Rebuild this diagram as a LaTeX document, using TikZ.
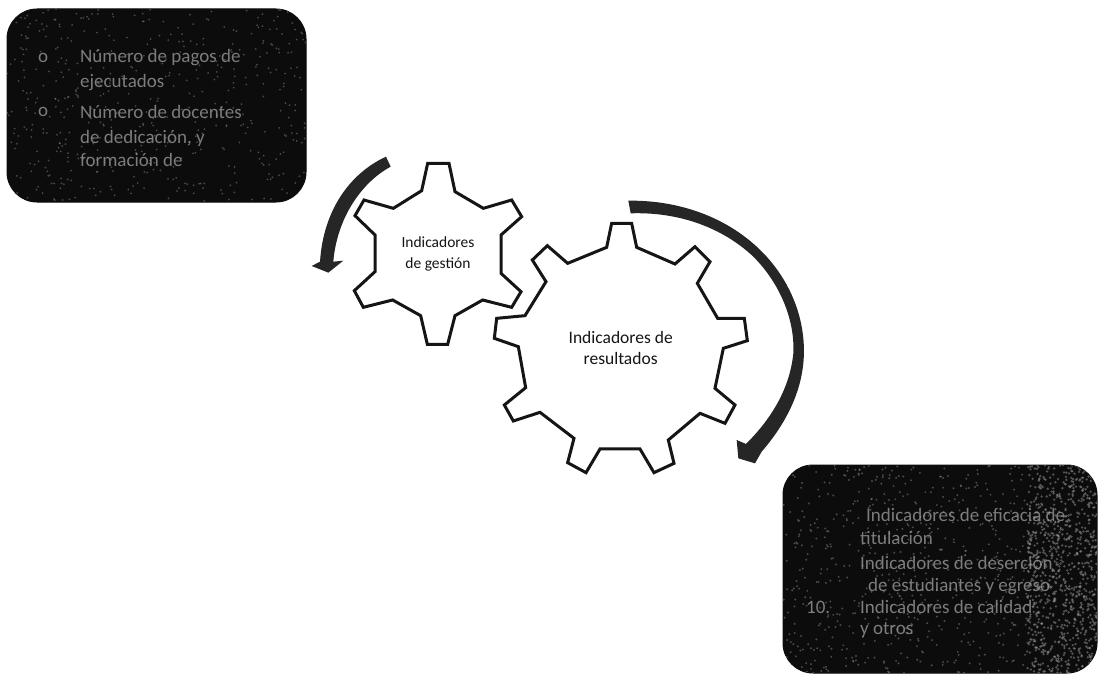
\documentclass[tikz,border=0pt]{standalone}
\usepackage{fontspec}
\setmainfont{Carlito}
\definecolor{boxblack}{HTML}{0C0C0C}
\definecolor{ink}{HTML}{151515}
\definecolor{arrowink}{HTML}{262626}
\definecolor{faded}{HTML}{7C7C7C}
\tikzset{
  gearline/.style={draw=ink,line width=3pt,fill=white,line join=miter},
  darkbox/.style={draw=boxblack,fill=boxblack,line width=1pt,rounded corners=30pt},
  arrowshape/.style={fill=arrowink,draw=none},
  gearlabel/.style={align=center,text=ink,font=\fontsize{15.5}{21}\selectfont,inner sep=0pt},
  faintline/.style={anchor=west,text=faded,font=\fontsize{19}{21}\selectfont,inner sep=0pt}
}
\begin{document}
\begin{tikzpicture}[x=1pt,y=-1pt]
\useasboundingbox (0,0) rectangle (1098,677);
% dark boxes
\draw[darkbox] (7,9) rectangle (306,202);
\draw[darkbox] (783,465) rectangle (1097,673);
% Box wording is barely legible in the reference: the words below are a best reading, not a certain copy.
\node[faintline] (l0) at (38,58) {o};
\node[faintline] (l1) at (80,58) {Número de pagos de};
\node[faintline] (l2) at (80,83) {ejecutados};
\node[faintline] (l3) at (38,112) {o};
\node[faintline] (l4) at (80,112) {Número de docentes};
\node[faintline] (l5) at (80,138) {de dedicación, y};
\node[faintline] (l6) at (80,160) {formación de};
\node[faintline] (r1) at (866,515) {Indicadores de eficacia de};
\node[faintline] (r2) at (860,538) {titulación};
\node[faintline] (r3) at (860,563) {Indicadores de deserción};
\node[faintline] (r4) at (868,587) {de estudiantes y egreso};
\node[faintline] (r5) at (806,607) {10.};
\node[faintline] (r6) at (860,607) {Indicadores de calidad};
\node[faintline] (r7) at (860,630) {y otros};
% print-grain texture of the scanned boxes
\pgfmathsetseed{4242}
\begin{scope}
  \clip[rounded corners=30pt] (7,9) rectangle (306,202);
  \foreach \i in {1,...,500}{
    \pgfmathsetmacro{\px}{rnd*299+7}
    \pgfmathsetmacro{\py}{rnd*193+9}
    \fill[gray!70,opacity=.4] (\px,\py) circle (1pt);
  }
\end{scope}
\begin{scope}
  \clip[rounded corners=30pt] (783,465) rectangle (1097,673);
  \foreach \i in {1,...,900}{
    \pgfmathsetmacro{\px}{rnd*70+1027}
    \pgfmathsetmacro{\py}{rnd*208+465}
    \fill[gray!80,opacity=.5] (\px,\py) circle (1.3pt);
  }
  \foreach \i in {1,...,600}{
    \pgfmathsetmacro{\px}{rnd*244+783}
    \pgfmathsetmacro{\py}{rnd*208+465}
    \fill[gray!70,opacity=.4] (\px,\py) circle (1.1pt);
  }
\end{scope}
% gears and arrows, in the 3x zoom coordinates
\begin{scope}[shift={(300,150)},x=.33333pt,y=-.33333pt]
  \draw[gearline] (383,40)--(447,40)--(465,125)--(550,175)--(635,150)--(665,200)--(603,255)--(603,370)--(663,425)--(635,472)--(548,450)--(465,497)--(443,583)--(382,583)--(362,497)--(278,450)--(190,472)--(163,422)--(225,365)--(225,255)--(165,197)--(192,150)--(280,175)--(365,122)--cycle;
  \draw[gearline] (935,220)--(995,220)--(1010,292)--(1125,342)--(1185,290)--(1230,335)--(1192,400)--(1253,505)--(1333,505)--(1342,572)--(1270,595)--(1245,715)--(1305,765)--(1275,820)--(1200,790)--(1105,870)--(1122,940)--(1062,968)--(1020,897)--(900,897)--(858,968)--(803,938)--(822,865)--(720,787)--(640,813)--(613,765)--(677,713)--(655,590)--(583,565)--(590,505)--(675,497)--(738,395)--(697,330)--(742,287)--(803,340)--(920,292)--cycle;
  \fill[arrowshape] (258,20) .. controls (150,70) and (70,180) .. (60,335) -- (35,348) -- (85,368) -- (130,332) -- (100,335) .. controls (110,210) and (180,100) .. (272,50) -- cycle;
  \fill[arrowshape] (985,152) .. controls (1150,150) and (1300,210) .. (1400,320) .. controls (1490,420) and (1520,540) .. (1510,640) .. controls (1500,740) and (1450,830) .. (1385,905) -- (1365,940) -- (1315,925) -- (1310,870) -- (1338,882) .. controls (1420,800) and (1470,710) .. (1480,610) .. controls (1485,510) and (1440,400) .. (1360,320) .. controls (1270,235) and (1140,185) .. (992,190) -- cycle;
  \node[gearlabel] (gestion) at (414,312) {Indicadores\\de gestión};
  \node[gearlabel,font=\fontsize{17.5}{21}\selectfont] (resultados) at (962,595) {Indicadores de\\resultados};
\end{scope}
\end{tikzpicture}
\end{document}
